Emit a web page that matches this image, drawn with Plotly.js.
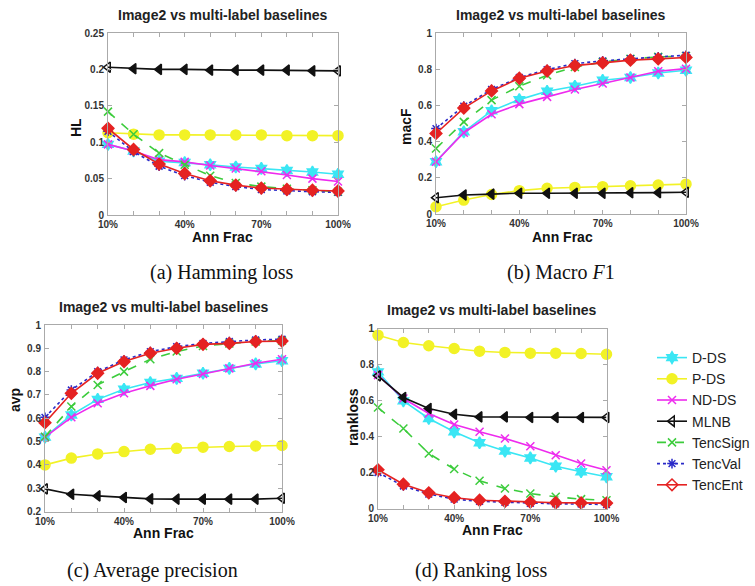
<!DOCTYPE html>
<html>
<head>
<meta charset="utf-8">
<script src="https://cdn.plot.ly/plotly-3.0.1.min.js"></script>
<style>html,body{margin:0;padding:0;background:#fff;}#chart{width:755px;height:586px;}</style>
</head>
<body>
<div id="chart"></div>
<script>
// ---- data ----
const annFrac = [10, 20, 30, 40, 50, 60, 70, 80, 90, 100];
const xTickText = ['10%', '', '', '40%', '', '', '70%', '', '', '100%'];
const methods = ['D-DS', 'P-DS', 'ND-DS', 'MLNB', 'TencSign', 'TencVal', 'TencEnt'];

// (a) Hamming loss
const hlDDS      = [0.097, 0.088, 0.074, 0.072, 0.069, 0.066, 0.064, 0.061, 0.059, 0.056];
const hlPDS      = [0.113, 0.111, 0.110, 0.110, 0.110, 0.110, 0.110, 0.109, 0.109, 0.109];
const hlNDDS     = [0.097, 0.088, 0.076, 0.073, 0.068, 0.064, 0.060, 0.055, 0.050, 0.046];
const hlMLNB     = [0.203, 0.201, 0.200, 0.200, 0.199, 0.199, 0.199, 0.199, 0.198, 0.198];
const hlTencSign = [0.142, 0.111, 0.085, 0.069, 0.054, 0.044, 0.039, 0.036, 0.034, 0.032];
const hlTencVal  = [0.115, 0.087, 0.067, 0.054, 0.045, 0.039, 0.035, 0.033, 0.032, 0.031];
const hlTencEnt  = [0.119, 0.090, 0.070, 0.057, 0.047, 0.041, 0.037, 0.035, 0.034, 0.033];

// (b) Macro F1
const mfDDS      = [0.289, 0.454, 0.570, 0.632, 0.678, 0.706, 0.739, 0.754, 0.779, 0.794];
const mfPDS      = [0.040, 0.077, 0.108, 0.129, 0.142, 0.147, 0.151, 0.156, 0.160, 0.165];
const mfNDDS     = [0.289, 0.449, 0.551, 0.607, 0.647, 0.688, 0.721, 0.754, 0.789, 0.803];
const mfMLNB     = [0.090, 0.105, 0.110, 0.115, 0.115, 0.115, 0.115, 0.117, 0.118, 0.120];
const mfTencSign = [0.362, 0.509, 0.629, 0.706, 0.767, 0.812, 0.840, 0.857, 0.868, 0.873];
const mfTencVal  = [0.472, 0.596, 0.688, 0.754, 0.798, 0.831, 0.846, 0.858, 0.868, 0.877];
const mfTencEnt  = [0.445, 0.585, 0.680, 0.750, 0.790, 0.820, 0.835, 0.850, 0.857, 0.865];

// (c) Average precision
const apDDS      = [0.519, 0.614, 0.681, 0.724, 0.753, 0.771, 0.793, 0.814, 0.833, 0.847];
const apPDS      = [0.400, 0.429, 0.447, 0.457, 0.467, 0.471, 0.476, 0.479, 0.481, 0.483];
const apNDDS     = [0.519, 0.604, 0.664, 0.707, 0.739, 0.767, 0.790, 0.814, 0.836, 0.853];
const apMLNB     = [0.297, 0.274, 0.267, 0.260, 0.254, 0.253, 0.253, 0.253, 0.253, 0.257];
const apTencSign = [0.521, 0.650, 0.743, 0.800, 0.853, 0.886, 0.910, 0.921, 0.929, 0.933];
const apTencVal  = [0.604, 0.721, 0.800, 0.850, 0.886, 0.907, 0.921, 0.929, 0.936, 0.939];
const apTencEnt  = [0.581, 0.707, 0.793, 0.843, 0.879, 0.900, 0.917, 0.921, 0.929, 0.931];

// (d) Ranking loss
const rlDDS      = [0.759, 0.598, 0.500, 0.426, 0.365, 0.319, 0.281, 0.235, 0.204, 0.176];
const rlPDS      = [0.963, 0.922, 0.904, 0.889, 0.874, 0.867, 0.863, 0.863, 0.861, 0.857];
const rlNDDS     = [0.741, 0.611, 0.528, 0.467, 0.426, 0.389, 0.346, 0.296, 0.250, 0.213];
const rlMLNB     = [0.737, 0.617, 0.556, 0.524, 0.509, 0.509, 0.506, 0.506, 0.506, 0.506];
const rlTencSign = [0.561, 0.444, 0.306, 0.219, 0.154, 0.111, 0.083, 0.065, 0.052, 0.046];
const rlTencVal  = [0.200, 0.125, 0.080, 0.052, 0.040, 0.034, 0.029, 0.026, 0.025, 0.022];
const rlTencEnt  = [0.215, 0.135, 0.087, 0.060, 0.046, 0.040, 0.035, 0.032, 0.031, 0.030];

const panelTitle = 'Image2 vs multi-label baselines';
const yTitles = ['HL', 'macF', 'avp', 'rankloss'];
const xTitle = 'Ann Frac';
const captions = ['(a) Hamming loss', '(b) Macro <i>F</i>1', '(c) Average precision', '(d) Ranking loss'];

// ---- styles ----
const W = 755, H = 586;
const styles = [
  {color: '#3ae6f4', dash: 'solid', symbol: 'hexagram', size: 9},
  {color: '#f2f226', dash: 'solid', symbol: 'circle', size: 10},
  {color: '#ee2bee', dash: 'solid', symbol: 'x-thin-open', size: 8},
  {color: '#111111', dash: 'solid', symbol: 'triangle-left', size: 9},
  {color: '#3ccc3c', dash: 'dash', symbol: 'x-thin-open', size: 8},
  {color: '#2a2ac8', dash: 'dot', symbol: 'asterisk-open', size: 8},
  {color: '#e52222', dash: 'solid', symbol: 'diamond', size: 9}
];
const legendSymbols = ['hexagram', 'circle', 'x-thin-open', 'triangle-left-open', 'x-thin-open', 'asterisk-open', 'diamond-open'];

const panels = [
  {series: [hlDDS, hlPDS, hlNDDS, hlMLNB, hlTencSign, hlTencVal, hlTencEnt], range: [0, 0.25], dtick: 0.05,
   px: [108, 338], py: [33, 215]},
  {series: [mfDDS, mfPDS, mfNDDS, mfMLNB, mfTencSign, mfTencVal, mfTencEnt], range: [0, 1], dtick: 0.2,
   px: [436, 686], py: [33, 214]},
  {series: [apDDS, apPDS, apNDDS, apMLNB, apTencSign, apTencVal, apTencEnt], range: [0.2, 1], dtick: 0.1,
   px: [45, 282], py: [325, 511.5]},
  {series: [rlDDS, rlPDS, rlNDDS, rlMLNB, rlTencSign, rlTencVal, rlTencEnt], range: [0, 1], dtick: 0.2,
   px: [378, 606.5], py: [328.5, 508.5]}
];

const traces = [];
const layout = {
  width: W, height: H,
  margin: {l: 0, r: 0, t: 0, b: 0},
  paper_bgcolor: '#ffffff', plot_bgcolor: '#ffffff',
  showlegend: true,
  legend: {x: 652 / W, y: 1 - 342 / H, xanchor: 'left', yanchor: 'top',
           font: {family: 'Arial, Liberation Sans, sans-serif', size: 14, color: '#222'},
           bgcolor: 'rgba(0,0,0,0)', borderwidth: 0, tracegroupgap: 0, itemwidth: 30},
  annotations: []
};

const tickFont = {family: 'Arial, Liberation Sans, sans-serif', size: 10, color: '#333', weight: 'bold'};
const lblFont = {family: 'Arial, Liberation Sans, sans-serif', size: 14, color: '#111', weight: 'bold'};

panels.forEach((p, i) => {
  const n = i === 0 ? '' : String(i + 1);
  const xa = 'xaxis' + n, ya = 'yaxis' + n;
  const xr = 'x' + n, yr = 'y' + n;
  layout[xa] = {
    domain: [p.px[0] / W, p.px[1] / W], anchor: yr,
    range: [10, 100], tickvals: annFrac, ticktext: xTickText,
    ticks: 'inside', ticklen: 4, tickcolor: '#aaa', tickwidth: 1,
    showline: true, linecolor: '#aaa', linewidth: 1, mirror: 'allticks',
    showgrid: false, zeroline: false, tickfont: tickFont, ticklabelstandoff: 0
  };
  layout[ya] = {
    domain: [1 - p.py[1] / H, 1 - p.py[0] / H], anchor: xr,
    range: p.range, dtick: p.dtick, tick0: 0,
    ticks: 'inside', ticklen: 4, tickcolor: '#aaa', tickwidth: 1,
    showline: true, linecolor: '#aaa', linewidth: 1, mirror: 'allticks',
    showgrid: false, zeroline: false, tickfont: tickFont, ticklabelstandoff: 1
  };
  p.series.forEach((ys, k) => {
    const s = styles[k];
    let sym = s.symbol;
    if (k === 3) sym = ys.map((v, j) => (j === 0 || j === ys.length - 1) ? 'triangle-left-open' : 'triangle-left');
    traces.push({
      type: 'scatter', mode: 'lines+markers', x: annFrac, y: ys,
      xaxis: xr, yaxis: yr, name: methods[k], showlegend: false, cliponaxis: false,
      line: {color: s.color, width: 1.6, dash: s.dash},
      marker: {symbol: sym, size: s.size, color: s.color, line: {color: s.color, width: 1.5}}
    });
  });
  const cx = (p.px[0] + p.px[1]) / 2;
  layout.annotations.push({
    text: panelTitle, xref: 'paper', yref: 'paper', x: cx / W, y: 1 - (p.py[0] - 18) / H,
    xanchor: 'center', yanchor: 'middle', showarrow: false,
    font: {family: 'Arial, Liberation Sans, sans-serif', size: 14, color: '#222', weight: 'bold'}
  });
});

// axis titles and captions (pixel positions)
const yTitlePos = [[76, 128], [406, 127], [15, 400], [353, 417]];
const xTitlePos = [[223, 237], [562, 237], [163, 533], [492, 530]];
const capPos = [[222, 272], [561, 272], [152, 570], [481, 570]];
for (let i = 0; i < 4; i++) {
  layout.annotations.push({
    text: yTitles[i], xref: 'paper', yref: 'paper', x: yTitlePos[i][0] / W, y: 1 - yTitlePos[i][1] / H,
    xanchor: 'center', yanchor: 'middle', textangle: -90, showarrow: false, font: lblFont
  });
  layout.annotations.push({
    text: xTitle, xref: 'paper', yref: 'paper', x: xTitlePos[i][0] / W, y: 1 - xTitlePos[i][1] / H,
    xanchor: 'center', yanchor: 'middle', showarrow: false, font: lblFont
  });
  layout.annotations.push({
    text: captions[i], xref: 'paper', yref: 'paper', x: capPos[i][0] / W, y: 1 - capPos[i][1] / H,
    xanchor: 'center', yanchor: 'middle', showarrow: false,
    font: {family: 'Liberation Serif, Times New Roman, serif', size: 20, color: '#111'}
  });
}

// legend entries (no data, only legend samples)
methods.forEach((m, k) => {
  const s = styles[k];
  traces.push({
    type: 'scatter', mode: 'lines+markers', x: [null], y: [null], xaxis: 'x4', yaxis: 'y4',
    name: m, showlegend: true,
    line: {color: s.color, width: 1.6, dash: s.dash},
    marker: {symbol: legendSymbols[k], size: s.size, color: s.color, line: {color: s.color, width: 1.5}}
  });
});

Plotly.newPlot('chart', traces, layout, {staticPlot: true, displayModeBar: false});
</script>
</body>
</html>
